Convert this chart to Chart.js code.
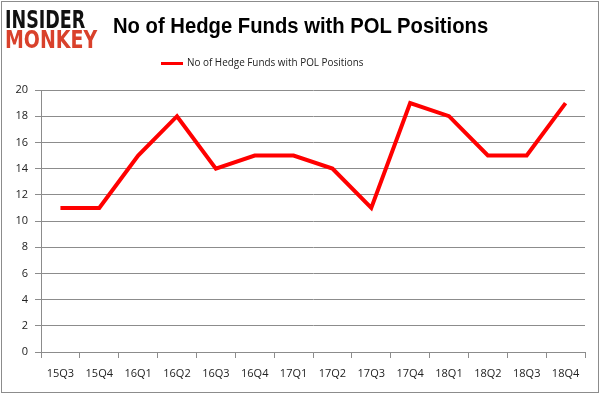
<!DOCTYPE html>
<html>
<head>
<meta charset="utf-8">
<script src="https://cdn.jsdelivr.net/npm/chart.js@4"></script>
<style>
  html, body { margin: 0; padding: 0; background: #fff; }
  #wrap { position: relative; width: 602px; height: 398px; overflow: hidden; }
  #frame { position: absolute; left: 1px; top: 1px; width: 596px; height: 390px; border: 1px solid #8c8c8c; }
  #chartbox { position: absolute; left: 0; top: 0; width: 602px; height: 398px; }
  #logo { position: absolute; left: 5px; top: 10px; font-family: "DejaVu Sans", sans-serif; font-weight: bold; line-height: 20px; }
  #logo .a { color: #111; font-size: 24px; display: block; transform: scaleX(0.73); transform-origin: left; }
  #logo .b { color: #d9412b; font-size: 24px; display: block; transform: scaleX(0.79); transform-origin: left; }
  #title { position: absolute; left: 113px; top: 13px; font-family: "Liberation Sans", sans-serif; font-weight: bold; font-size: 22px; color: #000; white-space: nowrap; transform: scaleX(0.92); transform-origin: left; }
  #legend { position: absolute; left: 161px; top: 54px; font-family: "Open Sans", sans-serif; font-size: 11px; color: #222; white-space: nowrap; }
  #legend .ln { display: inline-block; width: 22px; height: 3px; background: #ff0000; vertical-align: middle; margin-right: 4px; }
  #legend .tx { display: inline-block; transform: scaleX(0.9); transform-origin: left; }
</style>
</head>
<body>
<div id="wrap">
  <div id="frame"></div>
  <div id="chartbox"><canvas id="c"></canvas></div>
  <div id="logo"><span class="a">INSIDER</span><span class="b">MONKEY</span></div>
  <div id="title">No of Hedge Funds with POL Positions</div>
  <div id="legend"><span class="ln"></span><span class="tx">No of Hedge Funds with POL Positions</span></div>
</div>
<script>
const categories = ["15Q3","15Q4","16Q1","16Q2","16Q3","16Q4","17Q1","17Q2","17Q3","17Q4","18Q1","18Q2","18Q3","18Q4"];
const seriesName = "No of Hedge Funds with POL Positions";
const fundCounts = [11, 11, 15, 18, 14, 15, 15, 14, 11, 19, 18, 15, 15, 19];
const yMin = 0, yMax = 20, yStep = 2;

const gridColor = "#8c8c8c";
const tickFont = { family: "Open Sans", size: 11 };

new Chart(document.getElementById("c"), {
  type: "line",
  data: {
    labels: categories,
    datasets: [{
      label: seriesName,
      data: fundCounts,
      borderColor: "#ff0000",
      backgroundColor: "#ff0000",
      borderWidth: 4,
      pointRadius: 0,
      tension: 0,
      fill: false
    }]
  },
  options: {
    responsive: true,
    maintainAspectRatio: false,
    animation: false,
    layout: { padding: { left: 0, right: 17, top: 90, bottom: 0 } },
    plugins: { legend: { display: false }, title: { display: false }, tooltip: { enabled: false } },
    scales: {
      x: {
        offset: true,
        grid: { offset: true, drawOnChartArea: false, drawTicks: true, tickLength: 6, color: gridColor, lineWidth: 1 },
        border: { display: true, color: gridColor, width: 1 },
        ticks: { color: "#222", font: tickFont, padding: 9, maxRotation: 0, autoSkip: false },
        afterFit: (s) => { s.height = 46; }
      },
      y: {
        min: yMin, max: yMax,
        grid: { drawOnChartArea: true, drawTicks: true, tickLength: 6, color: gridColor, lineWidth: 1 },
        border: { display: true, color: gridColor, width: 1 },
        ticks: { stepSize: yStep, color: "#222", font: tickFont, padding: 7 },
        afterFit: (s) => { s.width = 41; }
      }
    }
  }
});
</script>
</body>
</html>
